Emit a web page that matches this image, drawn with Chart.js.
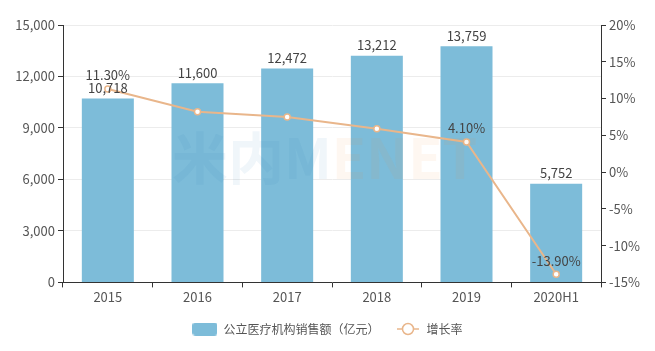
<!DOCTYPE html>
<html>
<head>
<meta charset="utf-8">
<script src="https://cdn.jsdelivr.net/npm/chart.js@4.4.0/dist/chart.umd.min.js"></script>
<style>
  html, body { margin: 0; padding: 0; background: #fff; }
  #wrap { width: 655px; height: 351px; position: relative; }
</style>
</head>
<body>
<div id="wrap"><canvas id="myChart"></canvas></div>
<script>
// data ------------------------------------------------
const labels = ['2015', '2016', '2017', '2018', '2019', '2020H1'];
const salesValues = [10718, 11600, 12472, 13212, 13759, 5752];
const growthValues = [11.3, 8.2, 7.5, 5.9, 4.1, -13.9];
const growthLabelShown = [true, false, false, false, true, true];
const leftTicks = [0, 3000, 6000, 9000, 12000, 15000];
const rightTicks = [-15, -10, -5, 0, 5, 10, 15, 20];

const barColor = '#7dbcd9';
const lineColor = '#e9b68b';
const textColor = '#555';
const fontFamily = '"Noto Sans CJK SC", "Open Sans", sans-serif';

// legend symbols
function makeBarIcon() {
    const c = document.createElement('canvas');
    c.width = 25; c.height = 13;
    const g = c.getContext('2d');
    g.fillStyle = barColor;
    g.beginPath();
    g.roundRect(0, 0, 25, 13, 3);
    g.fill();
    return c;
}
function makeLineIcon() {
    const c = document.createElement('canvas');
    c.width = 22; c.height = 14;
    const g = c.getContext('2d');
    g.strokeStyle = lineColor;
    g.lineWidth = 1.5;
    g.beginPath();
    g.moveTo(0, 7); g.lineTo(22, 7);
    g.stroke();
    g.fillStyle = '#fff';
    g.beginPath();
    g.arc(11, 7, 5.5, 0, Math.PI * 2);
    g.fill();
    g.stroke();
    return c;
}
const barIcon = makeBarIcon();
const lineIcon = makeLineIcon();

// value labels + watermark
const valueLabels = {
    id: 'valueLabels',
    afterDatasetsDraw(chart) {
        const ctx = chart.ctx;
        ctx.save();
        // watermark
        ctx.globalAlpha = 0.07;
        ctx.font = 'bold 56px ' + fontFamily;
        ctx.textBaseline = 'middle';
        ctx.textAlign = 'left';
        ctx.fillStyle = '#2a7fb8';
        ctx.fillText('米内', 172, 158);
        const w1 = ctx.measureText('米内').width;
        ctx.fillText('M', 172 + w1, 158);
        const w2 = ctx.measureText('M').width;
        ctx.fillStyle = '#f08a3c';
        ctx.fillText('ENET', 172 + w1 + w2, 158);
        ctx.restore();

        ctx.save();
        ctx.font = '13px ' + fontFamily;
        ctx.fillStyle = '#444';
        ctx.textAlign = 'center';
        ctx.textBaseline = 'bottom';
        chart.getDatasetMeta(0).data.forEach((bar, i) => {
            ctx.fillText(salesValues[i].toLocaleString('en-US'), bar.x, bar.y - 4);
        });
        chart.getDatasetMeta(1).data.forEach((pt, i) => {
            if (!growthLabelShown[i]) return;
            ctx.fillText(growthValues[i].toFixed(2) + '%', pt.x, pt.y - 7);
        });
        ctx.restore();
    }
};

const data = {
    labels: labels,
    datasets: [
        {
            type: 'bar',
            label: '公立医疗机构销售额（亿元）',
            data: salesValues,
            yAxisID: 'y',
            backgroundColor: barColor,
            barPercentage: 0.58,
            categoryPercentage: 1,
            order: 1
        },
        {
            type: 'line',
            label: '增长率',
            data: growthValues,
            yAxisID: 'y1',
            borderColor: lineColor,
            borderWidth: 2,
            pointBackgroundColor: '#fff',
            pointBorderColor: lineColor,
            pointBorderWidth: 1.5,
            pointRadius: 3,
            tension: 0,
            order: 0
        }
    ]
};

const options = {
    responsive: false,
    animation: false,
    layout: { padding: { top: 25, left: 0, right: 0, bottom: 6 } },
    plugins: {
        legend: {
            position: 'bottom',
            labels: {
                usePointStyle: true,
                pointStyleWidth: 25,
                padding: 16,
                color: textColor,
                font: { family: fontFamily, size: 12 },
                generateLabels(chart) {
                    return [
                        { text: '公立医疗机构销售额（亿元）', pointStyle: barIcon, fillStyle: barColor, strokeStyle: barColor, lineWidth: 0, datasetIndex: 0, fontColor: textColor },
                        { text: '增长率', pointStyle: lineIcon, fillStyle: '#fff', strokeStyle: lineColor, lineWidth: 0, datasetIndex: 1, fontColor: textColor }
                    ];
                }
            }
        },
        tooltip: { enabled: false }
    },
    scales: {
        x: {
            grid: { display: true, drawOnChartArea: false, drawTicks: true, tickLength: 5, color: '#333', offset: true },
            border: { display: true, color: '#333' },
            ticks: { color: textColor, font: { family: fontFamily, size: 13 }, padding: 2 }
        },
        y: {
            position: 'left',
            min: 0,
            max: 15000,
            afterBuildTicks(scale) { scale.ticks = leftTicks.map(v => ({ value: v })); },
            afterFit(scale) { scale.width = 63; },
            grid: { color: '#ececec', tickColor: '#333', tickLength: 5 },
            border: { display: true, color: '#333' },
            ticks: {
                color: textColor,
                font: { family: fontFamily, size: 13 },
                padding: 3,
                callback: v => v.toLocaleString('en-US')
            }
        },
        y1: {
            position: 'right',
            min: -15,
            max: 20,
            afterBuildTicks(scale) { scale.ticks = rightTicks.map(v => ({ value: v })); },
            afterFit(scale) { scale.width = 54; },
            grid: { drawOnChartArea: false, tickColor: '#333', tickLength: 5 },
            border: { display: true, color: '#333' },
            ticks: {
                color: textColor,
                font: { family: fontFamily, size: 13 },
                padding: 3,
                callback: v => v + '%'
            }
        }
    }
};

const canvas = document.getElementById('myChart');
canvas.width = 655;
canvas.height = 351;
const myChart = new Chart(canvas, {
    type: 'bar',
    data,
    options,
    plugins: [valueLabels]
});
</script>
</body>
</html>
